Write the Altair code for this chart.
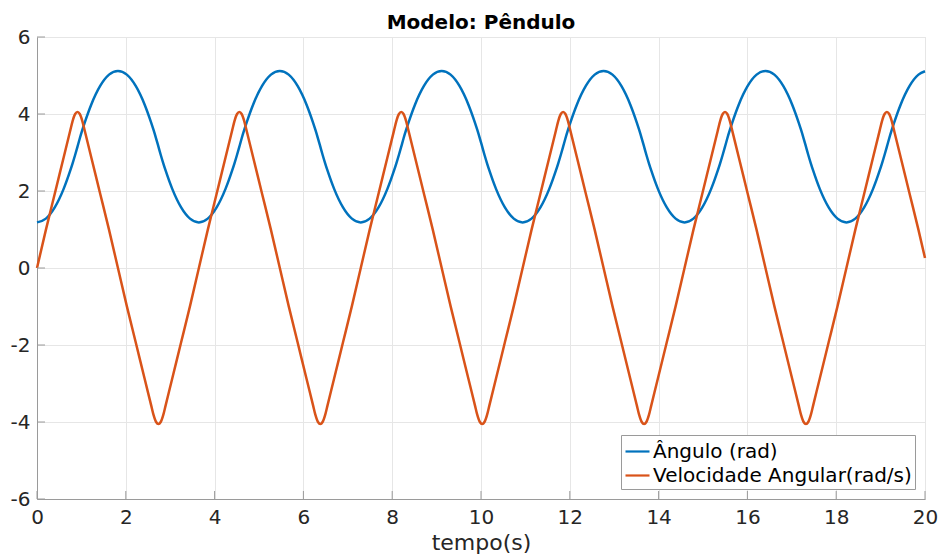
import altair as alt
import pandas as pd

# time samples (s)
t = [
    0, 0.2, 0.4, 0.6, 0.75, 0.8, 0.86, 0.912, 0.963, 1.023, 1.073, 1.223, 1.423, 1.623,
    1.823, 2.023, 2.223, 2.423, 2.573, 2.623, 2.683, 2.735, 2.786, 2.846, 2.896, 3.046, 3.246, 3.446,
    3.646, 3.846, 4.046, 4.246, 4.396, 4.446, 4.506, 4.558, 4.609, 4.669, 4.719, 4.869, 5.069, 5.269,
    5.469, 5.669, 5.869, 6.069, 6.219, 6.269, 6.329, 6.381, 6.432, 6.492, 6.542, 6.692, 6.892, 7.092,
    7.292, 7.492, 7.692, 7.892, 8.042, 8.092, 8.152, 8.204, 8.255, 8.315, 8.365, 8.515, 8.715, 8.915,
    9.115, 9.315, 9.515, 9.715, 9.865, 9.915, 9.975, 10.027, 10.078, 10.138, 10.188, 10.338, 10.538, 10.738,
    10.938, 11.138, 11.338, 11.538, 11.688, 11.738, 11.798, 11.85, 11.901, 11.961, 12.011, 12.161, 12.361, 12.561,
    12.761, 12.961, 13.161, 13.361, 13.511, 13.561, 13.621, 13.673, 13.724, 13.784, 13.834, 13.984, 14.184, 14.384,
    14.584, 14.784, 14.984, 15.184, 15.334, 15.384, 15.444, 15.496, 15.547, 15.607, 15.657, 15.807, 16.007, 16.207,
    16.407, 16.607, 16.807, 17.007, 17.157, 17.207, 17.267, 17.319, 17.37, 17.43, 17.48, 17.63, 17.83, 18.03,
    18.23, 18.43, 18.63, 18.83, 18.98, 19.03, 19.09, 19.142, 19.193, 19.253, 19.303, 19.453, 19.653, 19.853, 20.0,
]

# angle (rad)
angulo = [
    1.185, 1.283, 1.575, 2.056, 2.535, 2.713, 2.942, 3.152, 3.363, 3.592, 3.77, 4.249, 4.73, 5.022,
    5.12, 5.022, 4.73, 4.249, 3.77, 3.592, 3.363, 3.152, 2.942, 2.713, 2.535, 2.056, 1.575, 1.283,
    1.185, 1.283, 1.575, 2.056, 2.535, 2.713, 2.942, 3.152, 3.363, 3.592, 3.77, 4.249, 4.73, 5.022,
    5.12, 5.022, 4.73, 4.249, 3.77, 3.592, 3.363, 3.152, 2.942, 2.713, 2.535, 2.056, 1.575, 1.283,
    1.185, 1.283, 1.575, 2.056, 2.535, 2.713, 2.942, 3.152, 3.363, 3.592, 3.77, 4.249, 4.73, 5.022,
    5.12, 5.022, 4.73, 4.249, 3.77, 3.592, 3.363, 3.152, 2.942, 2.713, 2.535, 2.056, 1.575, 1.283,
    1.185, 1.283, 1.575, 2.056, 2.535, 2.713, 2.942, 3.152, 3.363, 3.592, 3.77, 4.249, 4.73, 5.022,
    5.12, 5.022, 4.73, 4.249, 3.77, 3.592, 3.363, 3.152, 2.942, 2.713, 2.535, 2.056, 1.575, 1.283,
    1.185, 1.283, 1.575, 2.056, 2.535, 2.713, 2.942, 3.152, 3.363, 3.592, 3.77, 4.249, 4.73, 5.022,
    5.12, 5.022, 4.73, 4.249, 3.77, 3.592, 3.363, 3.152, 2.942, 2.713, 2.535, 2.056, 1.575, 1.283,
    1.185, 1.283, 1.575, 2.056, 2.535, 2.713, 2.942, 3.152, 3.363, 3.592, 3.77, 4.249, 4.73, 5.022, 5.11,
]

# angular velocity (rad/s)
velocidade = [
    0, 0.99, 1.93, 2.87, 3.575, 3.81, 4.0, 4.05, 4.0, 3.81, 3.575, 2.87, 1.93, 0.99,
    0, -0.99, -1.93, -2.87, -3.575, -3.81, -4.0, -4.05, -4.0, -3.81, -3.575, -2.87, -1.93, -0.99,
    0, 0.99, 1.93, 2.87, 3.575, 3.81, 4.0, 4.05, 4.0, 3.81, 3.575, 2.87, 1.93, 0.99,
    0, -0.99, -1.93, -2.87, -3.575, -3.81, -4.0, -4.05, -4.0, -3.81, -3.575, -2.87, -1.93, -0.99,
    0, 0.99, 1.93, 2.87, 3.575, 3.81, 4.0, 4.05, 4.0, 3.81, 3.575, 2.87, 1.93, 0.99,
    0, -0.99, -1.93, -2.87, -3.575, -3.81, -4.0, -4.05, -4.0, -3.81, -3.575, -2.87, -1.93, -0.99,
    0, 0.99, 1.93, 2.87, 3.575, 3.81, 4.0, 4.05, 4.0, 3.81, 3.575, 2.87, 1.93, 0.99,
    0, -0.99, -1.93, -2.87, -3.575, -3.81, -4.0, -4.05, -4.0, -3.81, -3.575, -2.87, -1.93, -0.99,
    0, 0.99, 1.93, 2.87, 3.575, 3.81, 4.0, 4.05, 4.0, 3.81, 3.575, 2.87, 1.93, 0.99,
    0, -0.99, -1.93, -2.87, -3.575, -3.81, -4.0, -4.05, -4.0, -3.81, -3.575, -2.87, -1.93, -0.99,
    0, 0.99, 1.93, 2.87, 3.575, 3.81, 4.0, 4.05, 4.0, 3.81, 3.575, 2.87, 1.93, 0.99, 0.26,
]

series_names = ["Ângulo (rad)", "Velocidade Angular(rad/s)"]
series_colors = ["#0072BD", "#D95319"]
x_ticks = [0, 2, 4, 6, 8, 10, 12, 14, 16, 18, 20]
y_ticks = [-6, -4, -2, 0, 2, 4, 6]

rows = []
for ti, a in zip(t, angulo):
    rows.append({"t": ti, "valor": a, "serie": series_names[0]})
for ti, v in zip(t, velocidade):
    rows.append({"t": ti, "valor": v, "serie": series_names[1]})
df = pd.DataFrame(rows)

FONT = "DejaVu Sans"
AXIS_COLOR = "#9a9a9a"
label_expr = "datum.value < 0 ? '-' + abs(datum.value) : '' + datum.value"

x_scale = alt.Scale(domain=[0, 20], nice=False, zero=False)
y_scale = alt.Scale(domain=[-6, 6], nice=False, zero=False)

x_axis = alt.Axis(values=x_ticks, title="tempo(s)", labelExpr=label_expr,
                  ticks=False, tickSize=0, labelPadding=8, titlePadding=5,
                  labelFont=FONT, labelFontSize=20, labelColor="#262626",
                  titleFont=FONT, titleFontSize=22, titleFontWeight="normal",
                  titleColor="#262626", domainColor=AXIS_COLOR,
                  gridColor="#e6e6e6", grid=True, labelFlush=False)
y_axis = alt.Axis(values=y_ticks, title=None, labelExpr=label_expr,
                  ticks=False, tickSize=0, labelPadding=7,
                  labelFont=FONT, labelFontSize=20, labelColor="#262626",
                  domainColor=AXIS_COLOR, gridColor="#e6e6e6", grid=True,
                  labelFlush=False)

lines = alt.Chart(df).mark_line(strokeWidth=2.5, interpolate="monotone").encode(
    x=alt.X("t:Q", scale=x_scale, axis=x_axis),
    y=alt.Y("valor:Q", scale=y_scale, axis=y_axis),
    color=alt.Color("serie:N",
                    scale=alt.Scale(domain=series_names, range=series_colors),
                    legend=alt.Legend(title=None, orient="bottom-right", offset=10,
                                      strokeColor="#9a9a9a", fillColor="white",
                                      padding=3, labelFontSize=20, labelFont=FONT,
                                      labelColor="#000000", symbolType="stroke",
                                      symbolSize=576, symbolStrokeWidth=2.2,
                                      labelLimit=500, rowPadding=0, labelOffset=2)),
)

xt = alt.Chart(pd.DataFrame({"t": x_ticks})).mark_rule(color=AXIS_COLOR, strokeWidth=1).encode(
    x=alt.X("t:Q", scale=x_scale, axis=x_axis),
    y=alt.value(462), y2=alt.value(454),
)
yt = alt.Chart(pd.DataFrame({"valor": y_ticks})).mark_rule(color=AXIS_COLOR, strokeWidth=1).encode(
    y=alt.Y("valor:Q", scale=y_scale, axis=y_axis),
    x=alt.value(0), x2=alt.value(8),
)

chart = alt.layer(lines, xt, yt).properties(
    width=888, height=462,
    title=alt.TitleParams("Modelo: Pêndulo", font=FONT, fontSize=20, fontWeight="bold",
                          color="#000000", anchor="middle", offset=-6),
    autosize=alt.AutoSizeParams(type="none"),
    padding={"left": 29, "top": 29, "right": 13, "bottom": 61},
).configure_view(stroke="#dcdcdc", strokeWidth=1).configure(background="white")

chart.save("out.html", embed_options={"renderer": "svg", "actions": False})
